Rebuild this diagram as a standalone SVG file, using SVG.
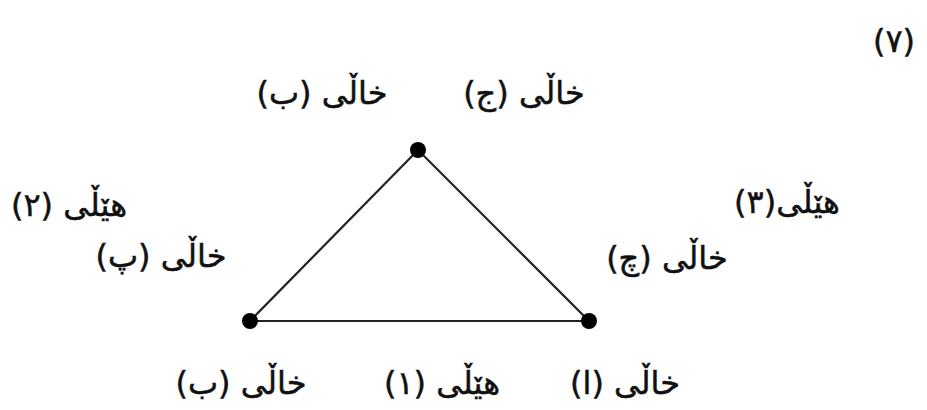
<svg xmlns="http://www.w3.org/2000/svg" width="927" height="410" viewBox="0 0 927 410">
<style>
.t{font-family:"DejaVu Sans","Noto Sans",sans-serif;font-size:32px;fill:#111;stroke:#111;stroke-width:0.5;direction:rtl;unicode-bidi:embed;text-anchor:middle}
.e{stroke:#222;stroke-width:2.2;fill:none}
.d{fill:#000}
</style>
<rect width="927" height="410" fill="#fff"/>
<g id="connectors">
<line class="e" x1="418" y1="150" x2="250" y2="321"/>
<line class="e" x1="418" y1="150" x2="589" y2="321"/>
<line class="e" x1="250" y1="321" x2="589" y2="321"/>
</g>
<g id="node-top"><circle class="d" cx="418" cy="150" r="8"/></g>
<g id="node-left"><circle class="d" cx="250" cy="321" r="8"/></g>
<g id="node-right"><circle class="d" cx="589" cy="321" r="8"/></g>
<g id="labels">
<text class="t" x="894" y="52">(٧)</text>
<text class="t" x="322" y="104">خاڵی (ب)</text>
<text class="t" x="524" y="104">خاڵی (ج)</text>
<text class="t" x="69" y="216">هێڵی (٢)</text>
<text class="t" x="161" y="267">خاڵی (پ)</text>
<text class="t" x="787" y="213">هێڵی(٣)</text>
<text class="t" x="667" y="269">خاڵی (چ)</text>
<text class="t" x="241" y="394">خاڵی (ب)</text>
<text class="t" x="442" y="394">هێڵی (١)</text>
<text class="t" x="625" y="394">خاڵی (ا)</text>
</g>
</svg>
